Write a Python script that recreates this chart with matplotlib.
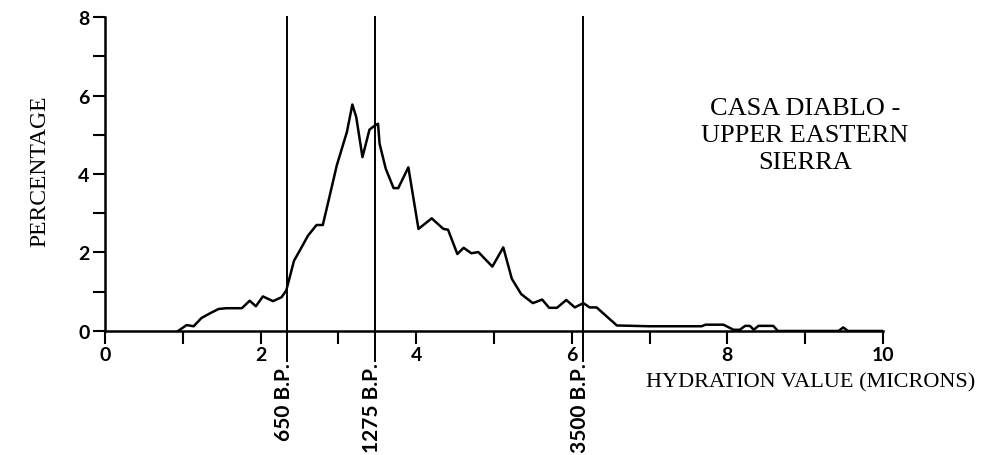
import numpy as np
import matplotlib
matplotlib.use("Agg")
import matplotlib.pyplot as plt
from matplotlib.ticker import MultipleLocator

# hydration value (microns) vs percentage
hydration = [0.94, 1.05, 1.14, 1.24, 1.35, 1.46, 1.56, 1.76, 1.86, 1.94,
             2.03, 2.16, 2.27, 2.33, 2.43, 2.51, 2.61, 2.72, 2.80, 2.88,
             2.98, 3.11, 3.18, 3.23, 3.31, 3.40, 3.46, 3.51, 3.53, 3.61,
             3.71, 3.77, 3.90, 4.03, 4.20, 4.35, 4.41, 4.53, 4.61, 4.71,
             4.80, 4.98, 5.12, 5.23, 5.35, 5.50, 5.62, 5.71, 5.81, 5.93,
             6.04, 6.15, 6.23, 6.32, 6.58, 7.00, 7.67, 7.72, 7.78, 7.95,
             8.08, 8.16, 8.23, 8.29, 8.34, 8.40, 8.59, 8.65, 9.43, 9.49,
             9.55, 10.0]
percent = [0.00, 0.15, 0.12, 0.33, 0.45, 0.56, 0.58, 0.58, 0.77, 0.63,
           0.88, 0.76, 0.86, 1.03, 1.79, 2.07, 2.43, 2.70, 2.70, 3.37,
           4.22, 5.07, 5.77, 5.45, 4.43, 5.13, 5.22, 5.28, 4.77, 4.13,
           3.64, 3.64, 4.17, 2.60, 2.87, 2.60, 2.58, 1.96, 2.12, 1.98,
           2.01, 1.64, 2.13, 1.33, 0.94, 0.71, 0.80, 0.59, 0.59, 0.79,
           0.60, 0.71, 0.60, 0.60, 0.14, 0.12, 0.12, 0.16, 0.16, 0.16,
           0.03, 0.03, 0.13, 0.13, 0.03, 0.13, 0.13, 0.00, 0.00, 0.09,
           0.00, 0.00]

dates = [2.34, 3.47, 6.14]
date_labels = ["650 B.P.", "1275 B.P.", "3500 B.P."]

serif = ["Liberation Serif", "DejaVu Serif"]
sans = ["Lato", "DejaVu Sans"]

fig = plt.figure(figsize=(9.81, 4.56), dpi=100)
ax = fig.add_axes([0.107, 0.272, 0.793, 0.6885])

ax.plot(hydration, percent, color="black", lw=1.8)

for d, lab in zip(dates, date_labels):
    ax.axvline(d, ymin=-0.096, ymax=1, color="black", lw=1.4, clip_on=False)
    ax.text(d - 0.04, -0.8, lab, rotation=90, ha="center", va="top",
            fontsize=15, fontweight="bold", family=sans)

ax.set_xlim(0, 10)
ax.set_ylim(0, 8)
ax.xaxis.set_major_locator(MultipleLocator(2))
ax.xaxis.set_minor_locator(MultipleLocator(1))
ax.yaxis.set_major_locator(MultipleLocator(2))
ax.yaxis.set_minor_locator(MultipleLocator(1))
ax.tick_params(which="both", direction="out", length=9, width=1.5,
               color="black")
ax.tick_params(axis="both", which="major", labelsize=14, pad=2)
for lab in ax.get_xticklabels() + ax.get_yticklabels():
    lab.set_family(sans)
    lab.set_fontweight("bold")

for s in ["top", "right"]:
    ax.spines[s].set_visible(False)
for s in ["left", "bottom"]:
    ax.spines[s].set_linewidth(1.8)

fig.text(0.041, 0.625, "PERCENTAGE", rotation=90, ha="center", va="center",
         fontsize=17, family=serif)
fig.text(0.994, 0.16, "HYDRATION VALUE (MICRONS)", ha="right", va="center",
         fontsize=16, family=serif)
ax.text(9.0, 5.0, "CASA DIABLO -\nUPPER EASTERN\nSIERRA", ha="center",
        va="center", fontsize=19, family=serif, linespacing=1.3)

fig.savefig("out.png", dpi=100)
